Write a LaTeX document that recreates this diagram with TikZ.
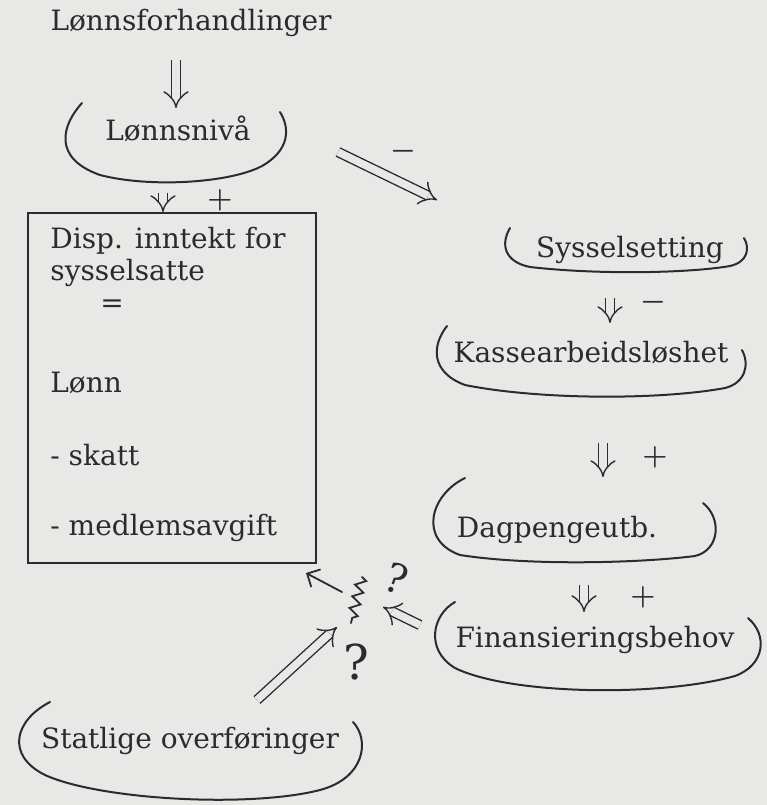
\documentclass[tikz,border=0pt]{standalone}
\usepackage{fontspec}
\setmainfont{DejaVu Serif}
\usepackage{tikz}
\usetikzlibrary{arrows.meta,positioning,decorations.pathmorphing}
\definecolor{papir}{RGB}{232,232,230}
\definecolor{blekk}{RGB}{45,42,45}

\begin{document}
\begin{tikzpicture}[
	x=0.5pt, y=-0.5pt,
	font=\fontsize{14}{17}\selectfont,
	tekst/.style={inner sep=0pt, text=blekk, anchor=base},
	linje/.style={inner sep=0pt, text=blekk, anchor=base west},
	boks/.style={rectangle, draw=blekk, line width=1pt, minimum width=144pt, minimum height=175pt, inner sep=0pt},
	skaal/.style={draw=blekk, line width=1pt, line cap=round},
	dobbel/.style={draw=blekk, double=papir, double distance=3.8pt, line width=0.7pt, -{Implies}},
	enkel/.style={draw=blekk, line width=0.9pt, line cap=round, -{Straight Barb[length=5pt,width=10pt]}},
	fortegn/.style={text=blekk, inner sep=0pt, font=\fontsize{15}{15}\selectfont\boldmath},
	spm/.style={text=blekk, inner sep=0pt, font=\fontsize{20}{20}\selectfont},
]
\fill[papir] (0,0) rectangle (767,805);
\useasboundingbox (0,0) rectangle (767,805);

\node[tekst] (forh)    at (191,30)  {Lønnsforhandlinger};
\node[tekst] (lnivaa)  at (178,140) {Lønnsnivå};
\node[tekst] (syss)    at (630,257) {Sysselsetting};
\node[tekst] (kasse)   at (591,362) {Kassearbeidsløshet};
\node[tekst] (dagp)    at (557,537) {Dagpengeutb.};
\node[tekst] (finans)  at (595,647) {Finansieringsbehov};
\node[tekst] (statlig) at (190,748) {Statlige overføringer};

% boksen med disponibel inntekt
\node[boks] (disp) at (172,388) {};
\node[linje] (d1) at (50,248) {Disp. inntekt for};
\node[linje] (d2) at (50,280) {sysselsatte};
\node[tekst] (d3) at (112,312) {=};
\node[linje] (d4) at (50,392) {Lønn};
\node[linje] (d5) at (50,465) {- skatt};
\node[linje] (d6) at (50,535) {- medlemsavgift};

% skåler rundt variablene
\draw[skaal] (82,103) .. controls (62,125) and (52,158) .. (100,175) .. controls (150,188) and (230,183) .. (262,166) .. controls (290,150) and (290,128) .. (280,112);
\draw[skaal] (510,228) .. controls (500,245) and (505,262) .. (530,267) .. controls (600,275) and (690,273) .. (730,266) .. controls (748,262) and (750,248) .. (744,238);
\draw[skaal] (447,326) .. controls (432,345) and (430,372) .. (465,385) .. controls (540,400) and (660,400) .. (725,388) .. controls (745,383) and (750,365) .. (742,350);
\draw[skaal] (465,478) .. controls (430,495) and (418,540) .. (460,555) .. controls (530,566) and (640,563) .. (695,556) .. controls (720,550) and (722,518) .. (703,503);
\draw[skaal] (455,602) .. controls (432,615) and (425,650) .. (455,668) .. controls (510,695) and (660,697) .. (735,676) .. controls (765,665) and (768,635) .. (748,618);
\draw[skaal] (50,702) .. controls (15,720) and (5,755) .. (45,775) .. controls (100,800) and (250,808) .. (320,790) .. controls (365,778) and (370,740) .. (353,722);

% knutepunktet
\coordinate (knute) at (356,600);
\draw[skaal, line width=0.9pt, decorate, decoration={zigzag, amplitude=2.5pt, segment length=6pt}] ([shift={(6,-23)}]knute) -- ([shift={(-5,23)}]knute);
\node[spm, rotate=-20] (spm1) at (397,578) {?};
\node[spm, font=\fontsize{24}{24}\selectfont] (spm2) at (356,662) {?};

% piler
\draw[dobbel] ([shift={(-15,30)}]forh.base) -- ([shift={(-2,-32)}]lnivaa.base);
\draw[dobbel] ([shift={(-15,53)}]lnivaa.base) -- ([shift={(-9,0)}]disp.north);
\draw[dobbel] ([shift={(160,12)}]lnivaa.base) -- ([shift={(-193,-57)}]syss.base);
\draw[dobbel] ([shift={(-20,41)}]syss.base) -- ([shift={(19,-39)}]kasse.base);
\draw[dobbel] ([shift={(12,81)}]kasse.base) -- ([shift={(46,-60)}]dagp.base);
\draw[dobbel] ([shift={(27,48)}]dagp.base) -- ([shift={(-11,-35)}]finans.base);
\draw[dobbel] ([shift={(-175,-22)}]finans.base) -- ([shift={(27,7)}]knute);
\draw[dobbel] ([shift={(67,-48)}]statlig.base) -- ([shift={(-19,27)}]knute);
\draw[enkel] ([shift={(-14,-8)}]knute) -- ([shift={(-11,9)}]disp.south east);

% fortegn
\node[fortegn] (f1) at (220,200) {$+$};
\node[fortegn] (f2) at (403,151) {$-$};
\node[fortegn] (f3) at (653,302) {$-$};
\node[fortegn] (f4) at (655,457) {$+$};
\node[fortegn] (f5) at (643,597) {$+$};
\end{tikzpicture}
\end{document}
